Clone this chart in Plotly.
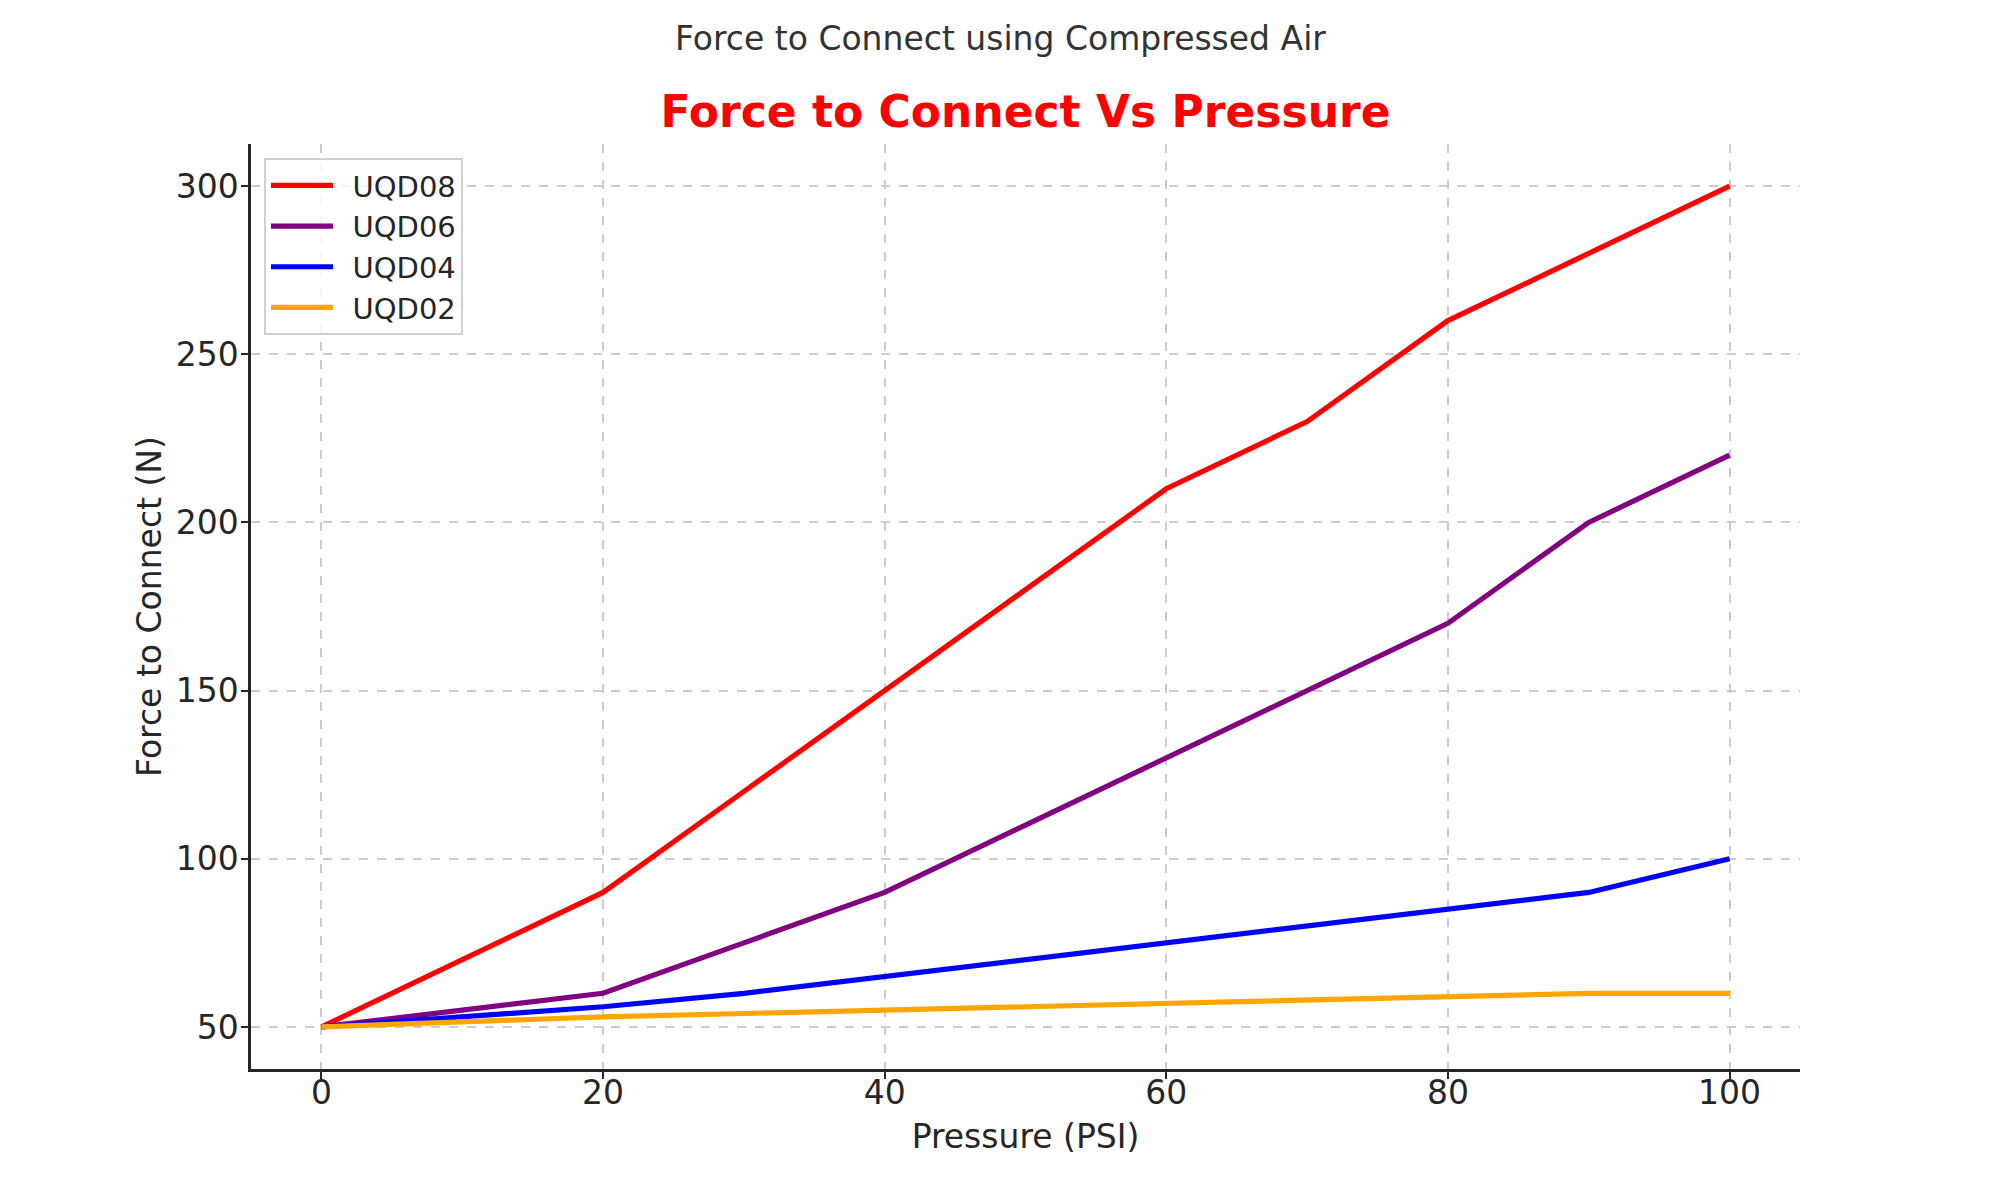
import plotly.graph_objects as go

pressure = [0, 20, 30, 40, 50, 60, 70, 80, 90, 100]
uqd08 = [50, 90, 120, 150, 180, 210, 230, 260, 280, 300]
uqd06 = [50, 60, 75, 90, 110, 130, 150, 170, 200, 220]
uqd04 = [50, 56, 60, 65, 70, 75, 80, 85, 90, 100]
uqd02 = [50, 53, 54, 55, 56, 57, 58, 59, 60, 60]

series = [("UQD08", uqd08, "#ff0000"), ("UQD06", uqd06, "#800080"),
          ("UQD04", uqd04, "#0000ff"), ("UQD02", uqd02, "#ffa500")]

x_ticks = [0, 20, 40, 60, 80, 100]
y_ticks = [50, 100, 150, 200, 250, 300]

FONT = "DejaVu Sans"

fig = go.Figure()
for name, vals, color in series:
    fig.add_trace(go.Scatter(x=pressure, y=vals, mode="lines", name="\u2002" + name,
                             line=dict(color=color, width=5.2)))

W, H = 2000, 1200
L, T = 243, 136
PW, PH = 1549, 925
R = W - L - PW
B = H - T - PH

axis_common = dict(showline=True, linecolor="#262626", linewidth=2.5,
                   ticks="outside", ticklen=7, tickwidth=2, tickcolor="#262626",
                   showgrid=True, gridcolor="#cccccc", gridwidth=1.5, griddash="dash",
                   zeroline=False, mirror=False,
                   tickfont=dict(family=FONT, size=33, color="#262626"))

fig.update_layout(
    width=W, height=H,
    margin=dict(l=L, r=R, t=T, b=B),
    paper_bgcolor="white", plot_bgcolor="white",
    font=dict(family=FONT, color="#262626"),
    title=dict(text="<b>Force to Connect Vs Pressure</b>", x=(L + PW / 2) / W, xanchor="center",
               y=1 - 104 / H, yanchor="middle",
               font=dict(family=FONT, size=44, color="#ff0000")),
    xaxis=dict(range=[-5, 105], tickvals=x_ticks, ticktext=[str(v) for v in x_ticks],
               ticklabelstandoff=-14,
               title=dict(text="Pressure (PSI)", font=dict(family=FONT, size=33, color="#262626"),
                          standoff=14),
               **axis_common),
    yaxis=dict(range=[37.5, 312.5], tickvals=y_ticks, ticktext=[str(v) for v in y_ticks],
               ticklabelstandoff=-4,
               title=dict(text="Force to Connect (N)", font=dict(family=FONT, size=33, color="#262626"),
                          standoff=5),
               **axis_common),
    legend=dict(x=(264 - 8 - L) / PW, y=1 - (158 - 8 - T) / PH, xanchor="left", yanchor="top",
                bgcolor="rgba(255,255,255,0.8)", bordercolor="#d0d0d0", borderwidth=2,
                font=dict(family=FONT, size=29, color="#262626"),
                itemwidth=62),
    showlegend=True,
    annotations=[dict(text="Force to Connect using Compressed Air", xref="paper", yref="paper",
                      x=(992 - L) / PW, y=1 + (T - 30) / PH, xanchor="center", yanchor="middle",
                      showarrow=False, font=dict(family=FONT, size=33, color="#333333"))],
)

fig.write_html("out.html")
